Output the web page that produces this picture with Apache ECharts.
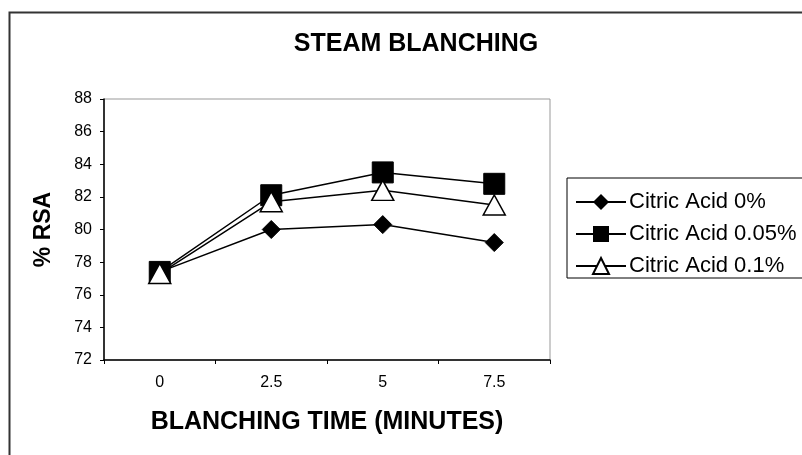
<!DOCTYPE html>
<html>
<head>
<meta charset="utf-8">
<script src="https://cdn.jsdelivr.net/npm/echarts@6/dist/echarts.min.js"></script>
<style>html,body{margin:0;padding:0;background:#fff}#c{width:802px;height:455px}</style>
</head>
<body>
<div id="c"></div>
<script>
const categories = ['0', '2.5', '5', '7.5'];
const seriesNames = ['Citric Acid 0%', 'Citric Acid 0.05%', 'Citric Acid 0.1%'];
const acid0 = [77.4, 80.0, 80.3, 79.2];
const acid005 = [77.4, 82.1, 83.5, 82.8];
const acid01 = [77.3, 81.7, 82.4, 81.5];
const yTicks = { min: 72, max: 88, interval: 2 };

const FONT = 'Liberation Sans, Arial, sans-serif';
const chart = echarts.init(document.getElementById('c'), null, { renderer: 'canvas' });
const lineStyle = { color: '#000', width: 1.5 };
chart.setOption({
  animation: false,
  backgroundColor: '#fff',
  textStyle: { fontFamily: FONT, color: '#000' },
  title: {
    text: 'STEAM BLANCHING',
    left: 411, top: 27, textAlign: 'center',
    textStyle: { fontFamily: FONT, fontWeight: 'bold', fontSize: 25, color: '#000' }
  },
  graphic: [{
    type: 'rect', left: 7, top: 10, silent: true,
    shape: { width: 900, height: 600 },
    style: { fill: 'none', stroke: '#333', lineWidth: 2 }
  }],
  legend: {
    left: 567, top: 178, orient: 'vertical',
    data: seriesNames,
    itemWidth: 50, itemHeight: 20, itemGap: 10,
    padding: [13, 12, 1, 8],
    borderColor: '#000', borderWidth: 1,
    textStyle: { fontFamily: FONT, fontSize: 22, color: '#000', padding: [0, 0, 0, -2] }
  },
  grid: { left: 104, top: 99, right: 252, bottom: 95, show: true, borderColor: '#999', borderWidth: 1 },
  xAxis: {
    type: 'category', data: categories, boundaryGap: true,
    name: 'BLANCHING TIME (MINUTES)', nameLocation: 'middle', nameGap: 50,
    nameTextStyle: { fontFamily: FONT, fontWeight: 'bold', fontSize: 25, color: '#000' },
    axisLine: { lineStyle: { color: '#000', width: 1.5 } },
    axisTick: { show: true, length: 4, alignWithLabel: false, lineStyle: { color: '#000' } },
    axisLabel: { fontFamily: FONT, fontSize: 16, color: '#000', margin: 15 },
    splitLine: { show: false }
  },
  yAxis: {
    type: 'value', min: yTicks.min, max: yTicks.max, interval: yTicks.interval,
    name: '% RSA', nameLocation: 'middle', nameGap: 49, nameRotate: 90,
    nameTextStyle: { fontFamily: FONT, fontWeight: 'bold', fontSize: 23, color: '#000' },
    axisLine: { show: true, lineStyle: { color: '#000', width: 1.5 } },
    axisTick: { show: true, length: 4, lineStyle: { color: '#000' } },
    axisLabel: { fontFamily: FONT, fontSize: 16, color: '#000', margin: 12 },
    splitLine: { show: false }
  },
  series: [
    { name: seriesNames[0], type: 'line', data: acid0, symbol: 'diamond', symbolSize: 18,
      lineStyle: lineStyle, itemStyle: { color: '#000', borderColor: '#000' }, z: 2 },
    { name: seriesNames[1], type: 'line', data: acid005, symbol: 'rect', symbolSize: 21,
      lineStyle: lineStyle, itemStyle: { color: '#000', borderColor: '#000' }, z: 3 },
    { name: seriesNames[2], type: 'line', data: acid01, symbol: 'triangle', symbolSize: [22, 20],
      lineStyle: lineStyle, itemStyle: { color: '#fff', borderColor: '#000', borderWidth: 1.5 }, z: 4 }
  ]
});
</script>
</body>
</html>
